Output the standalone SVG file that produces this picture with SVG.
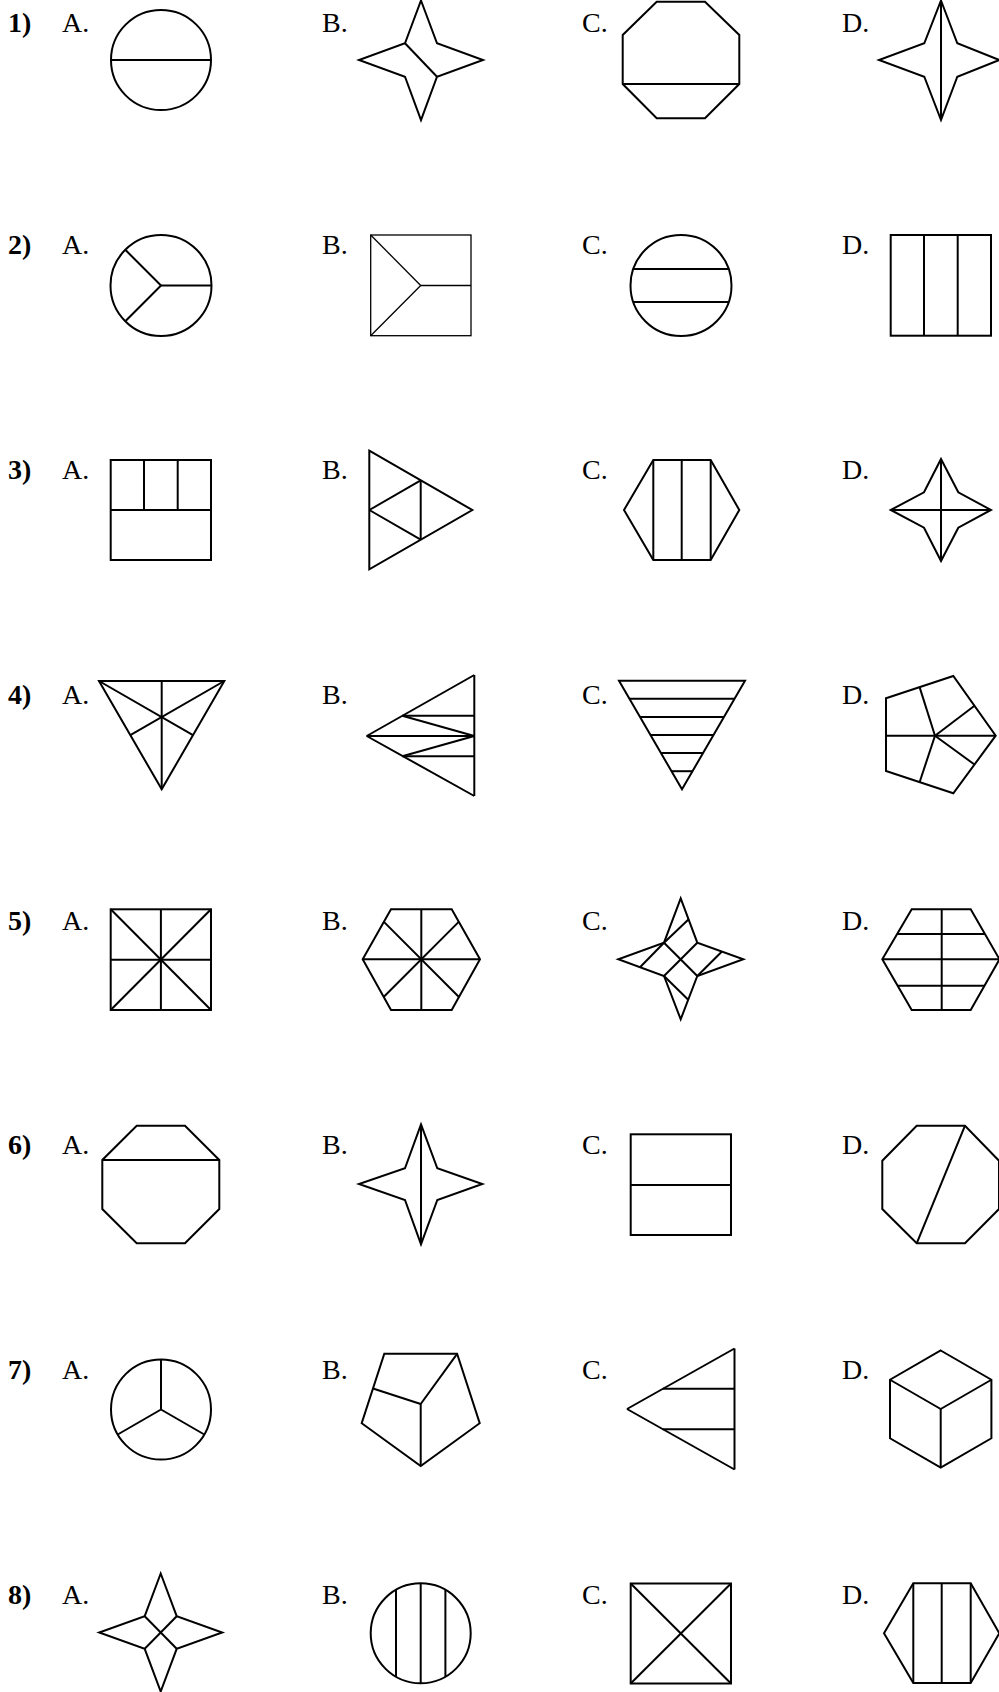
<svg xmlns="http://www.w3.org/2000/svg" width="999" height="1692" viewBox="0 0 999 1692">
<style>
.s{fill:none;stroke:#000;stroke-width:2;stroke-linejoin:miter}
.th{stroke-width:1.3}
.t{font-family:"Liberation Serif",serif;font-size:28px;fill:#000}
.n{font-weight:bold}
</style>
<rect width="999" height="1692" fill="#fff"/>
<g id="labels">
<text class="t n" x="8" y="31.5">1)</text>
<text class="t" x="62" y="31.5">A.</text><text class="t" x="322" y="31.5">B.</text><text class="t" x="582" y="31.5">C.</text><text class="t" x="842" y="31.5">D.</text>
<text class="t n" x="8" y="254">2)</text>
<text class="t" x="62" y="254">A.</text><text class="t" x="322" y="254">B.</text><text class="t" x="582" y="254">C.</text><text class="t" x="842" y="254">D.</text>
<text class="t n" x="8" y="479">3)</text>
<text class="t" x="62" y="479">A.</text><text class="t" x="322" y="479">B.</text><text class="t" x="582" y="479">C.</text><text class="t" x="842" y="479">D.</text>
<text class="t n" x="8" y="704">4)</text>
<text class="t" x="62" y="704">A.</text><text class="t" x="322" y="704">B.</text><text class="t" x="582" y="704">C.</text><text class="t" x="842" y="704">D.</text>
<text class="t n" x="8" y="930">5)</text>
<text class="t" x="62" y="930">A.</text><text class="t" x="322" y="930">B.</text><text class="t" x="582" y="930">C.</text><text class="t" x="842" y="930">D.</text>
<text class="t n" x="8" y="1154">6)</text>
<text class="t" x="62" y="1154">A.</text><text class="t" x="322" y="1154">B.</text><text class="t" x="582" y="1154">C.</text><text class="t" x="842" y="1154">D.</text>
<text class="t n" x="8" y="1379">7)</text>
<text class="t" x="62" y="1379">A.</text><text class="t" x="322" y="1379">B.</text><text class="t" x="582" y="1379">C.</text><text class="t" x="842" y="1379">D.</text>
<text class="t n" x="8" y="1603.5">8)</text>
<text class="t" x="62" y="1603.5">A.</text><text class="t" x="322" y="1603.5">B.</text><text class="t" x="582" y="1603.5">C.</text><text class="t" x="842" y="1603.5">D.</text>
</g>

<!-- Row 1 -->
<g id="q1a" class="s"><circle cx="161" cy="60" r="50"/><line x1="111" y1="60" x2="211" y2="60"/></g>
<g id="q1b" class="s"><polygon points="421,0.5 437,43.3 483,60 437,76.7 421,120 405,76.7 359,60 405,43.3"/><line x1="405" y1="43.3" x2="437" y2="76.7"/></g>
<g id="q1c" class="s"><polygon points="656.7,1.7 705,1.7 739.3,35 739.3,84 705,118.3 656.7,118.3 622.7,84 622.7,35"/><line x1="622.7" y1="84" x2="739.3" y2="84"/></g>
<g id="q1d" class="s"><polygon points="941,0.5 957.3,43.3 999.5,60 957.3,76.7 941,120 924.3,76.7 879,60 924.3,43.3"/><line x1="941" y1="0.5" x2="941" y2="120"/></g>

<!-- Row 2 -->
<g id="q2a" class="s"><circle cx="161" cy="285.5" r="50.5"/><line x1="161" y1="285.5" x2="211.5" y2="285.5"/><line x1="161" y1="285.5" x2="125.3" y2="249.8"/><line x1="161" y1="285.5" x2="125.3" y2="321.2"/></g>
<g id="q2b" class="s th"><rect x="370.7" y="235" width="100.3" height="100.7"/><line x1="370.7" y1="235" x2="420.7" y2="285.5"/><line x1="370.7" y1="335.7" x2="420.7" y2="285.5"/><line x1="420.7" y1="285.5" x2="471" y2="285.5"/></g>
<g id="q2c" class="s"><circle cx="681" cy="285.5" r="50.5"/><line x1="633.3" y1="269" x2="728.7" y2="269"/><line x1="633.3" y1="302" x2="728.7" y2="302"/></g>
<g id="q2d" class="s"><rect x="890.7" y="235" width="100.3" height="100.7"/><line x1="924" y1="235" x2="924" y2="335.7"/><line x1="957.7" y1="235" x2="957.7" y2="335.7"/></g>

<!-- Row 3 -->
<g id="q3a" class="s"><rect x="110.7" y="460" width="100.3" height="100"/><line x1="110.7" y1="510" x2="211" y2="510"/><line x1="144" y1="460" x2="144" y2="510"/><line x1="177.7" y1="460" x2="177.7" y2="510"/></g>
<g id="q3b" class="s"><polygon points="369.3,450.7 472.3,510 369.3,569.3"/><line x1="369.3" y1="510" x2="420.7" y2="480.3"/><line x1="369.3" y1="510" x2="420.7" y2="539.7"/><line x1="420.7" y1="480.3" x2="420.7" y2="539.7"/></g>
<g id="q3c" class="s"><polygon points="653.3,460 710.7,460 739.3,510 710.7,560 653.3,560 624,510"/><line x1="653.3" y1="460" x2="653.3" y2="560"/><line x1="681.7" y1="460" x2="681.7" y2="560"/><line x1="710.7" y1="460" x2="710.7" y2="560"/></g>
<g id="q3d" class="s"><polygon points="941,459 958.3,492.3 991,510 958.3,527.7 941,561 924,527.7 890.7,510 924,492.3"/><line x1="941" y1="459" x2="941" y2="561"/><line x1="890.7" y1="510" x2="991" y2="510"/></g>

<!-- Row 4 -->
<g id="q4a" class="s"><polygon points="99,681 224.3,681 161.7,789.3"/><line x1="161.7" y1="681" x2="161.7" y2="789.3"/><line x1="99" y1="681" x2="193" y2="735.2"/><line x1="224.3" y1="681" x2="130.3" y2="735.2"/></g>
<g id="q4b" class="s"><line x1="474.3" y1="675" x2="474.3" y2="796"/><line x1="366.7" y1="736" x2="474.3" y2="675"/><line x1="366.7" y1="736" x2="474.3" y2="796"/><line x1="402.3" y1="715.8" x2="474.3" y2="715.8"/><line x1="366.7" y1="736" x2="474.3" y2="736"/><line x1="402.3" y1="756.2" x2="474.3" y2="756.2"/><line x1="402.3" y1="715.8" x2="474.3" y2="736"/><line x1="402.3" y1="756.2" x2="474.3" y2="736"/></g>
<g id="q4c" class="s"><polygon points="619,680.7 745,680.7 682,789.3"/><line x1="629.5" y1="698.8" x2="734.5" y2="698.8"/><line x1="640" y1="716.9" x2="724" y2="716.9"/><line x1="650.5" y1="735" x2="713.5" y2="735"/><line x1="661" y1="753.1" x2="703" y2="753.1"/><line x1="671.5" y1="771.2" x2="692.5" y2="771.2"/></g>
<g id="q4d" class="s"><polygon points="886,698.3 953.3,676 995.7,735.7 953.3,793.3 886,771"/><line x1="935" y1="735.7" x2="886" y2="735.7"/><line x1="935" y1="735.7" x2="919.6" y2="687.1"/><line x1="935" y1="735.7" x2="974.5" y2="705.8"/><line x1="935" y1="735.7" x2="995.7" y2="735.7"/><line x1="935" y1="735.7" x2="974.5" y2="764.5"/><line x1="935" y1="735.7" x2="919.6" y2="782.2"/></g>

<!-- Row 5 -->
<g id="q5a" class="s"><rect x="110.7" y="909.3" width="100.3" height="100.7"/><line x1="110.7" y1="909.3" x2="211" y2="1010"/><line x1="211" y1="909.3" x2="110.7" y2="1010"/><line x1="160.9" y1="909.3" x2="160.9" y2="1010"/><line x1="110.7" y1="959.7" x2="211" y2="959.7"/></g>
<g id="q5b" class="s"><polygon points="391,909.3 451.7,909.3 480,959.3 451.7,1010 391,1010 362.7,959.3"/><line x1="421.3" y1="909.3" x2="421.3" y2="1010"/><line x1="362.7" y1="959.3" x2="480" y2="959.3"/><line x1="383.9" y1="921.9" x2="458.7" y2="996.7"/><line x1="458.7" y1="921.9" x2="383.9" y2="996.7"/></g>
<g id="q5c" class="s"><polygon points="680.7,898.3 697.3,942.7 743.3,959.3 697.3,976 680.7,1019.3 664,976 618.3,959.3 664,942.7"/><line x1="664" y1="942.7" x2="697.3" y2="976"/><line x1="697.3" y1="942.7" x2="664" y2="976"/><line x1="664" y1="942.7" x2="688.7" y2="919.3"/><line x1="640" y1="967.3" x2="664" y2="942.7"/><line x1="697.3" y1="976" x2="721.7" y2="951.7"/><line x1="664" y1="976" x2="688.5" y2="1000"/></g>
<g id="q5d" class="s"><polygon points="911.7,909.3 970.7,909.3 999.5,959.3 970.7,1010 911.7,1010 882.3,959.3"/><line x1="897.5" y1="934" x2="984.8" y2="934"/><line x1="882.3" y1="959.3" x2="999.5" y2="959.3"/><line x1="897.5" y1="985.7" x2="984.8" y2="985.7"/><line x1="941.7" y1="909.3" x2="941.7" y2="1010"/></g>

<!-- Row 6 -->
<g id="q6a" class="s"><polygon points="136.7,1125.7 185,1125.7 219.3,1160 219.3,1209 185,1243.3 136.7,1243.3 102.3,1209 102.3,1160"/><line x1="102.3" y1="1160" x2="219.3" y2="1160"/></g>
<g id="q6b" class="s"><polygon points="421,1124.3 437.3,1168.3 482.3,1184 437.3,1200 421,1244.3 405,1200 359,1184 405,1168.3"/><line x1="421" y1="1124.3" x2="421" y2="1244.3"/></g>
<g id="q6c" class="s"><rect x="630.7" y="1134.3" width="100.3" height="100.7"/><line x1="630.7" y1="1185" x2="731" y2="1185"/></g>
<g id="q6d" class="s"><polygon points="916.7,1125.7 965,1125.7 999,1160.7 999,1209 965,1243.3 916.7,1243.3 882.3,1209 882.3,1160.7"/><line x1="965" y1="1125.7" x2="916.7" y2="1243.3"/></g>

<!-- Row 7 -->
<g id="q7a" class="s"><circle cx="161" cy="1409.5" r="50"/><line x1="161" y1="1409.5" x2="161" y2="1359.5"/><line x1="161" y1="1409.5" x2="117.7" y2="1434.5"/><line x1="161" y1="1409.5" x2="204.3" y2="1434.5"/></g>
<g id="q7b" class="s"><polygon points="384.3,1353.8 457.1,1353.8 479.7,1423.2 420.7,1466 361.7,1423.2"/><line x1="420.7" y1="1404" x2="420.7" y2="1466"/><line x1="420.7" y1="1404" x2="457.1" y2="1353.8"/><line x1="420.7" y1="1404" x2="373" y2="1388.5"/></g>
<g id="q7c" class="s"><line x1="734.5" y1="1348.5" x2="734.5" y2="1469.5"/><line x1="627" y1="1409" x2="734.5" y2="1348.5"/><line x1="627" y1="1409" x2="734.5" y2="1469.5"/><line x1="662.8" y1="1388.8" x2="734.5" y2="1388.8"/><line x1="662.8" y1="1429.2" x2="734.5" y2="1429.2"/></g>
<g id="q7d" class="s"><polygon points="940.7,1350.5 991.4,1379.75 991.4,1438.25 940.7,1467.5 890,1438.25 890,1379.75"/><line x1="940.7" y1="1409" x2="890" y2="1379.75"/><line x1="940.7" y1="1409" x2="991.4" y2="1379.75"/><line x1="940.7" y1="1409" x2="940.7" y2="1467.5"/></g>

<!-- Row 8 -->
<g id="q8a" class="s"><polygon points="160.7,1573.5 176.7,1616.2 222.2,1632.5 176.7,1648.8 160.7,1691.5 144.7,1648.8 99.2,1632.5 144.7,1616.2"/><line x1="144.7" y1="1616.2" x2="176.7" y2="1648.8"/><line x1="176.7" y1="1616.2" x2="144.7" y2="1648.8"/></g>
<g id="q8b" class="s"><circle cx="420.7" cy="1633.3" r="50"/><line x1="396" y1="1589.7" x2="396" y2="1676.9"/><line x1="420.7" y1="1583.3" x2="420.7" y2="1683.3"/><line x1="445.4" y1="1589.7" x2="445.4" y2="1676.9"/></g>
<g id="q8c" class="s"><rect x="630.7" y="1583.5" width="100.3" height="100"/><line x1="630.7" y1="1583.5" x2="731" y2="1683.5"/><line x1="731" y1="1583.5" x2="630.7" y2="1683.5"/></g>
<g id="q8d" class="s"><polygon points="913.3,1583.3 970.7,1583.3 999.3,1633.2 970.7,1683 913.3,1683 884,1633.2"/><line x1="913.3" y1="1583.3" x2="913.3" y2="1683"/><line x1="941.7" y1="1583.3" x2="941.7" y2="1683"/><line x1="970.7" y1="1583.3" x2="970.7" y2="1683"/></g>
</svg>
